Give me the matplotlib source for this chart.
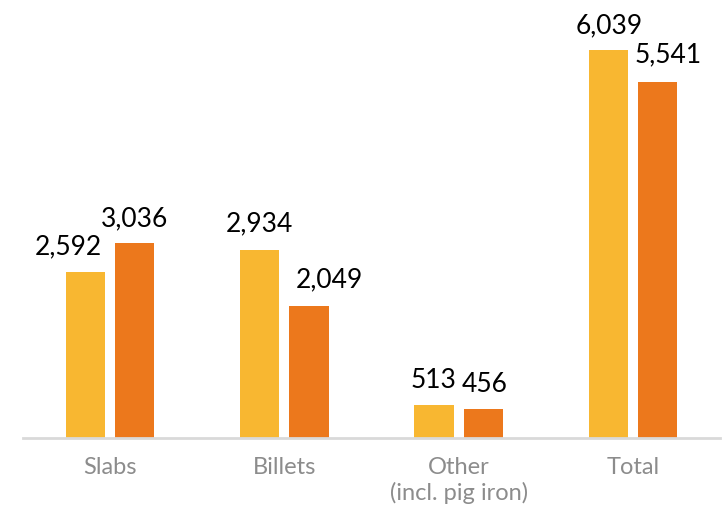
import numpy as np
import matplotlib.pyplot as plt

categories = ['Slabs', 'Billets', 'Other\n(incl. pig iron)', 'Total']
first = [2592, 2934, 513, 6039]
second = [3036, 2049, 456, 5541]

# label nudges in pixels (x, y) so neighbouring numbers don't collide
first_dx = [-17, 0, -1, 1]
second_dx = [0, 20, 1, 11]
first_dy = [17, 18, 17, 17]
second_dy = [17, 19, 17, 20]

yellow = '#F8B731'
orange = '#EC781C'

plt.rcParams['font.family'] = ['Lato', 'DejaVu Sans']

fig = plt.figure(figsize=(7.27, 5.09), dpi=100)
ax = fig.add_axes([23 / 727, 1 - 438 / 509, 697 / 727, 436 / 509])

x = np.arange(len(categories))
w = 0.225
off = 0.141
b1 = ax.bar(x - off, first, w, color=yellow)
b2 = ax.bar(x + off, second, w, color=orange)

for bars, vals, dxs, dys in [(b1, first, first_dx, first_dy), (b2, second, second_dx, second_dy)]:
    for bar, v, dx, dy in zip(bars, vals, dxs, dys):
        ax.annotate(f'{v:,}', (bar.get_x() + bar.get_width() / 2, v),
                    xytext=(dx, dy), textcoords='offset pixels',
                    ha='center', va='baseline', fontsize=19, color='black')

ax.set_xlim(-0.5, 3.5)
ax.set_ylim(0, 6790)
ax.set_xticks(x)
ax.set_xticklabels(categories, fontsize=17, color='#8c8c8c', fontweight='normal',
                   linespacing=1.2)
ax.tick_params(axis='x', length=0, pad=14)
ax.set_yticks([])
for s in ['top', 'right', 'left']:
    ax.spines[s].set_visible(False)
ax.spines['bottom'].set_color('#d9d9d9')
ax.spines['bottom'].set_linewidth(2)

fig.savefig('out.png', dpi=100)
